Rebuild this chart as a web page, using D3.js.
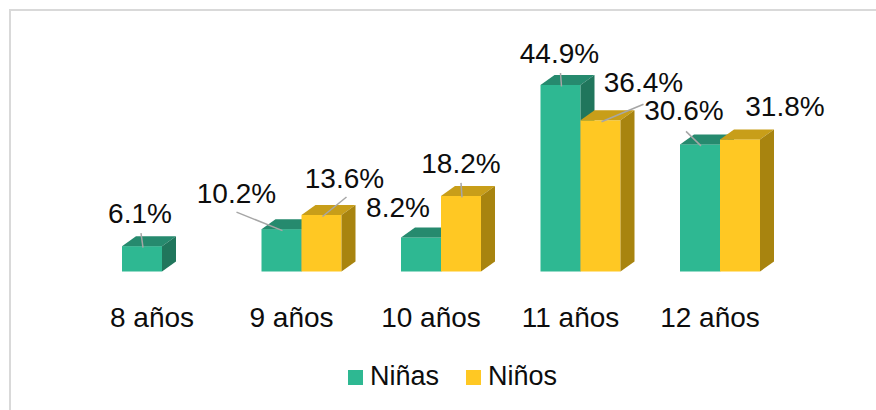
<!DOCTYPE html>
<html>
<head>
    <meta charset="utf-8">
    <title>Niñas y Niños por edad</title>
    <script src="https://d3js.org/d3.v7.min.js"></script>
    <style>
        body { margin: 0; background: #fff; }
        text { font-family: "Liberation Sans", Arial, sans-serif; fill: #0d0d0d; }
    </style>
</head>
<body>
<div id="chart"></div>
<script>
    // Data
    var categories = ["8 años", "9 años", "10 años", "11 años", "12 años"];
    var seriesNames = ["Niñas", "Niños"];
    var ninas = [6.1, 10.2, 8.2, 44.9, 30.6];
    var ninos = [null, 13.6, 18.2, 36.4, 31.8];

    // Manual label placement (offset from top-front-centre of each bar), and leader start
    var labelPos = {
        "Niñas": [[-2, -23, -1, -13], [-45, -26, -45, -17], [-23, -20, null, null], [-1, -22, 0, -12], [-16, -24, -14, -13]],
        "Niños": [null, [23, -27, 25, -18], [0, -23, 0, -13], [43, -28, 43, -16], [45, -23, null, null]]
    };

    var W = 876, H = 410;
    var depthX = 14, depthY = 10;

    var colors = {
        "Niñas": {front: "#2eb892", top: "#268a6e", side: "#20765c"},
        "Niños": {front: "#ffc823", top: "#c89e19", side: "#a8840f"}
    };

    var svg = d3.select("#chart").append("svg")
        .attr("width", W)
        .attr("height", H);

    // Chart border
    svg.append("rect")
        .attr("x", 10).attr("y", 10)
        .attr("width", W + 20).attr("height", H + 20)
        .attr("fill", "none")
        .attr("stroke", "#d9d9d9")
        .attr("stroke-width", 2);

    var x = d3.scaleBand()
        .domain(categories)
        .range([52.25, 52.25 + 139.5 * 5.5735])
        .paddingInner(0.4265)
        .paddingOuter(0.5);

    var xs = d3.scaleBand()
        .domain(seriesNames)
        .range([0, x.bandwidth()]);

    var y = d3.scaleLinear()
        .domain([0, 50])
        .range([271.5, 271.5 - 207.7]);

    var rows = [];
    categories.forEach(function(c, i) {
        rows.push({cat: c, i: i, s: "Niñas", v: ninas[i]});
        rows.push({cat: c, i: i, s: "Niños", v: ninos[i]});
    });
    rows = rows.filter(function(d) { return d.v != null; });

    function pts(a) { return a.map(function(p) { return p.join(","); }).join(" "); }

    var bars = svg.append("g").selectAll("g")
        .data(rows)
        .enter().append("g");

    bars.each(function(d) {
        var g = d3.select(this);
        var x0 = x(d.cat) + xs(d.s), x1 = x0 + xs.bandwidth();
        var y0 = y(0), y1 = y(d.v);
        var c = colors[d.s];
        g.append("rect")
            .attr("x", x0).attr("y", y1)
            .attr("width", x1 - x0).attr("height", y0 - y1)
            .attr("fill", c.front);
        g.append("polygon")
            .attr("points", pts([[x0, y1], [x1, y1], [x1 + depthX, y1 - depthY], [x0 + depthX, y1 - depthY]]))
            .attr("fill", c.top);
        g.append("polygon")
            .attr("points", pts([[x1, y1], [x1 + depthX, y1 - depthY], [x1 + depthX, y0 - depthY], [x1, y0]]))
            .attr("fill", c.side);
    });

    // Data labels with leader lines
    var labels = svg.append("g");
    rows.forEach(function(d) {
        var p = labelPos[d.s][d.i];
        var cx = x(d.cat) + xs(d.s) + xs.bandwidth() / 2;
        var ty = y(d.v);
        if (p[2] != null) {
            labels.append("line")
                .attr("x1", cx + p[2]).attr("y1", ty + p[3])
                .attr("x2", cx + 1).attr("y2", ty + 1.5)
                .attr("stroke", "#a6a6a6")
                .attr("stroke-width", 1.5);
        }
        labels.append("text")
            .attr("x", cx + p[0])
            .attr("y", ty + p[1])
            .attr("text-anchor", "middle")
            .style("font-size", "28px")
            .text(d.v.toFixed(1) + "%");
    });

    // Category labels
    svg.append("g").selectAll("text")
        .data(categories)
        .enter().append("text")
        .attr("x", function(d) { return x(d) + 30; })
        .attr("y", 326.7)
        .attr("text-anchor", "middle")
        .style("font-size", "28px")
        .text(function(d) { return d; });

    // Legend
    var legendX = [348, 466];
    var legend = svg.append("g").selectAll("g")
        .data(seriesNames)
        .enter().append("g")
        .attr("transform", function(d, i) { return "translate(" + legendX[i] + ",370)"; });
    legend.append("rect")
        .attr("width", 15).attr("height", 15)
        .attr("fill", function(d) { return colors[d].front; });
    legend.append("text")
        .attr("x", 22).attr("y", 15)
        .style("font-size", "27px")
        .text(function(d) { return d; });
</script>
</body>
</html>
